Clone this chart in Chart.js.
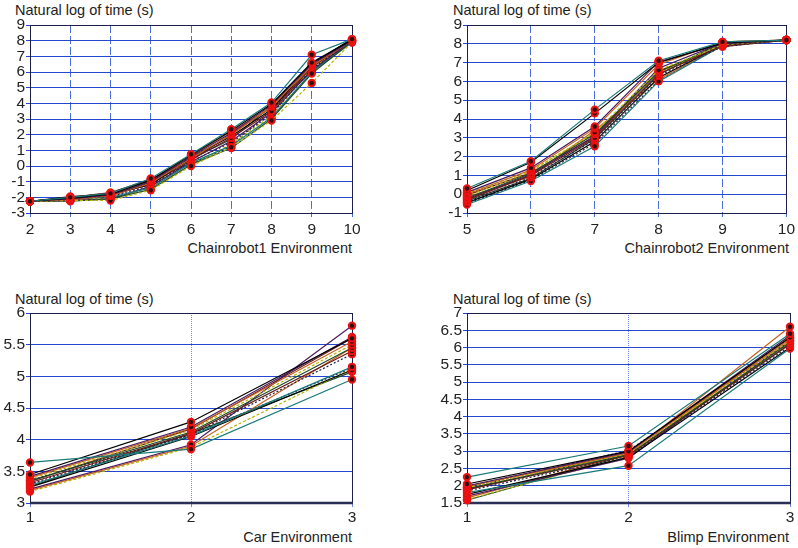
<!DOCTYPE html>
<html><head><meta charset="utf-8">
<script src="https://cdn.jsdelivr.net/npm/chart.js@4.4.1/dist/chart.umd.min.js"></script>
<style>
html,body{margin:0;padding:0;background:#fff;}
#wrap{position:relative;width:798px;height:548px;overflow:hidden;font-family:'Liberation Sans',Arial,sans-serif;}
canvas{position:absolute;}
.t{position:absolute;font-size:14.5px;color:#222;line-height:16px;white-space:nowrap;}
.r{text-align:right;}
</style></head>
<body><div id="wrap">
<div class="t" style="left:15px;top:2px;">Natural log of time (s)</div>
<div class="t" style="left:453px;top:2px;">Natural log of time (s)</div>
<div class="t" style="left:15px;top:291px;">Natural log of time (s)</div>
<div class="t" style="left:453px;top:291px;">Natural log of time (s)</div>
<div class="t r" style="right:446px;top:240px;">Chainrobot1 Environment</div>
<div class="t r" style="right:9px;top:240px;">Chainrobot2 Environment</div>
<div class="t r" style="right:446px;top:529px;">Car Environment</div>
<div class="t r" style="right:9px;top:529px;">Blimp Environment</div>
</div>
<script>
// ---------- DATA ----------
const chain1X = [2,3,4,5,6,7,8,9,10];
const chain1Series = [
  [-2.25,-2.00,-1.75,-0.80,0.75,2.35,4.05,7.10,8.10],
  [-2.25,-2.05,-1.80,-0.90,0.70,2.25,3.95,6.60,8.05],
  [-2.25,-2.10,-1.85,-1.00,0.60,2.10,3.90,6.50,8.00],
  [-2.25,-2.15,-1.90,-1.10,0.50,2.00,3.80,6.40,8.00],
  [-2.25,-2.20,-2.20,-1.55,0.00,1.20,2.90,5.30,7.90],
  [-2.25,-2.25,-2.10,-1.50,0.10,1.15,3.00,5.90,7.95],
  [-2.25,-2.00,-1.70,-0.85,0.40,1.80,3.50,6.30,8.05],
  [-2.25,-2.10,-1.95,-1.25,0.30,1.50,3.30,6.20,8.00],
  [-2.25,-2.05,-2.00,-1.40,0.20,1.30,3.10,6.00,7.90],
  [-2.25,-1.95,-1.80,-1.20,0.55,1.90,3.60,6.50,8.10],
  [-2.25,-2.20,-2.10,-1.30,0.25,1.60,3.40,6.10,8.00],
  [-2.25,-2.10,-1.75,-0.95,0.65,2.20,3.70,6.35,8.05],
  [-2.25,-2.15,-2.05,-1.45,0.05,1.40,3.20,6.25,7.95],
  [-2.25,-2.00,-1.85,-1.05,0.45,1.70,3.85,6.55,8.10],
  [-2.25,-2.20,-1.90,-1.15,0.35,2.05,3.75,6.05,7.90],
  [-2.25,-2.05,-1.70,-0.90,0.15,1.25,3.60,6.15,8.00]
];
const chain1YTicks = {min:-3, max:9, step:1};

const chain2X = [5,6,7,8,9,10];
const chain2Series = [
  [0.30,1.75,4.50,7.10,8.10,8.2],
  [0.20,1.70,4.30,7.00,8.05,8.2],
  [0.10,1.40,3.60,7.05,8.00,8.2],
  [0.00,1.30,3.50,6.90,8.10,8.2],
  [-0.10,1.20,3.30,6.60,7.95,8.2],
  [-0.20,1.10,3.20,6.50,8.00,8.2],
  [-0.30,1.00,3.00,6.40,7.90,8.2],
  [-0.40,0.90,2.90,6.30,7.85,8.2],
  [-0.55,0.70,2.55,6.00,7.90,8.2],
  [-0.45,0.80,2.80,6.20,7.95,8.2],
  [-0.25,1.05,3.10,6.70,8.05,8.2],
  [-0.15,0.95,3.40,6.10,7.90,8.2],
  [0.05,1.25,3.25,6.45,8.00,8.2],
  [-0.35,0.85,2.95,6.35,8.10,8.2],
  [-0.05,1.15,3.05,6.55,7.85,8.2],
  [-0.50,0.75,2.70,6.05,8.00,8.2]
];
const chain2YTicks = {min:-1, max:9, step:1};

const carX = [1,2,3];
const carSeries = [
  [3.64,3.85,4.95],
  [3.45,4.28,5.60],
  [3.42,4.20,5.62],
  [3.40,4.18,5.55],
  [3.38,4.15,5.50],
  [3.35,4.12,5.45],
  [3.32,4.10,5.40],
  [3.30,4.08,5.35],
  [3.28,4.06,5.15],
  [3.25,4.05,5.10],
  [3.22,3.92,5.80],
  [3.20,3.90,5.45],
  [3.18,3.88,5.12],
  [3.26,4.10,5.07],
  [3.34,4.17,5.60],
  [3.36,4.08,5.13]
];
const carYTicks = {min:3, max:6, step:0.5};

const blimpX = [1,2,3];
const blimpSeries = [
  [2.25,3.15,6.40],
  [2.05,3.00,6.30],
  [2.00,2.98,6.35],
  [1.98,2.95,6.25],
  [1.95,2.93,6.20],
  [1.92,2.90,6.15],
  [1.90,2.88,6.10],
  [1.85,2.85,6.05],
  [1.80,2.58,5.97],
  [1.75,2.82,6.00],
  [1.70,2.80,6.20],
  [1.65,2.92,6.60],
  [1.60,2.85,6.30],
  [1.58,2.90,6.10],
  [1.88,2.96,6.28],
  [1.94,3.02,6.18]
];
const blimpYTicks = {min:1.5, max:7, step:0.5};

// ---------- STYLE ----------
const palette = ['#1a7a7a','#000000','#4a1a5e','#c8601e','#b8b400','#1e4a2a','#6a1a1a','#222244'];
const dashes  = [[],[],[],[],[3,2],[],[],[2,2]];
const FONT = "'Liberation Sans', Arial, sans-serif";

const framePlugin = {
  id:'frame',
  beforeDatasetsDraw(chart, args, opts){
    const a = chart.chartArea, c = chart.ctx;
    c.save();
    c.strokeStyle = '#1c1f4a';
    c.lineWidth = 1;
    c.strokeRect(Math.round(a.left)+0.5, Math.round(a.top)+0.5, Math.round(a.right-a.left), Math.round(a.bottom-a.top));
    if (opts.thickBottom){
      c.lineWidth = 2.5;
      c.strokeStyle = '#2a3055';
      c.beginPath(); c.moveTo(a.left, a.bottom); c.lineTo(a.right+1, a.bottom); c.stroke();
    }
    c.restore();
  }
};

function makePanel(cfg){
  const cv = document.createElement('canvas');
  cv.width = cfg.w; cv.height = cfg.h;
  cv.style.left = cfg.left+'px'; cv.style.top = cfg.top+'px';
  cv.style.width = cfg.w+'px'; cv.style.height = cfg.h+'px';
  document.getElementById('wrap').appendChild(cv);
  const datasets = cfg.series.map((s,i)=>({
    data: s.map((v,j)=>({x:cfg.xs[j], y:v})),
    borderColor: palette[i % palette.length],
    borderDash: dashes[i % dashes.length],
    borderWidth: 1.2,
    pointRadius: 3.2,
    pointBorderWidth: 2,
    pointBorderColor: '#ee1111',
    pointBackgroundColor: '#2a1010',
    fill:false,
    tension:0,
    clip:false
  }));
  const yW = cfg.plotL - cfg.left;
  const xH = cfg.top + cfg.h - cfg.plotB;
  new Chart(cv, {
    type:'line',
    data:{datasets},
    plugins:[framePlugin],
    options:{
      responsive:false, animation:false, devicePixelRatio:1,
      layout:{padding:{top:cfg.plotT-cfg.top, right:cfg.left+cfg.w-cfg.plotR, left:0, bottom:0}},
      plugins:{legend:{display:false}, tooltip:{enabled:false}, frame:{thickBottom:cfg.thick}},
      scales:{
        x:{type:'linear', min:cfg.xs[0], max:cfg.xs[cfg.xs.length-1],
           afterFit(s){ s.height = xH; },
           ticks:{stepSize:1, color:'#222', font:{family:FONT,size:15.5}, padding:cfg.xPad, maxRotation:0, autoSkip:false},
           grid:{color:cfg.vGridColor, lineWidth:1, tickLength:4, tickColor:cfg.vGridColor},
           border:{display:true, color:'#1c1f4a', width:1, dash:cfg.vDash}
        },
        y:{type:'linear', min:cfg.yt.min, max:cfg.yt.max,
           afterFit(s){ s.width = yW; },
           ticks:{stepSize:cfg.yt.step, color:'#222', font:{family:FONT,size:15.5}, padding:1, autoSkip:false,
                  callback:(v)=>String(+Number(v).toFixed(2))},
           grid:{color:'#2447d2', lineWidth:1, tickLength:4},
           border:{display:true, color:'#1c1f4a', width:1}
        }
      }
    }
  });
}

makePanel({left:0, top:0, w:399, h:262, plotL:30, plotT:25, plotR:352, plotB:213,
  xs:chain1X, series:chain1Series, yt:chain1YTicks, xPad:3, vGridColor:'#4a6ee2', vDash:[8,3], thick:false});
makePanel({left:437, top:0, w:361, h:262, plotL:467, plotT:25, plotR:790, plotB:213,
  xs:chain2X, series:chain2Series, yt:chain2YTicks, xPad:3, vGridColor:'#4a6ee2', vDash:[8,3], thick:false});
makePanel({left:0, top:288, w:399, h:255, plotL:30, plotT:313, plotR:352, plotB:503,
  xs:carX, series:carSeries, yt:carYTicks, xPad:1, vGridColor:'#6f86ee', vDash:[1,1], thick:true});
makePanel({left:437, top:288, w:361, h:255, plotL:467, plotT:313, plotR:790, plotB:503,
  xs:blimpX, series:blimpSeries, yt:blimpYTicks, xPad:1, vGridColor:'#6f86ee', vDash:[1,1], thick:true});
</script>
</body></html>
